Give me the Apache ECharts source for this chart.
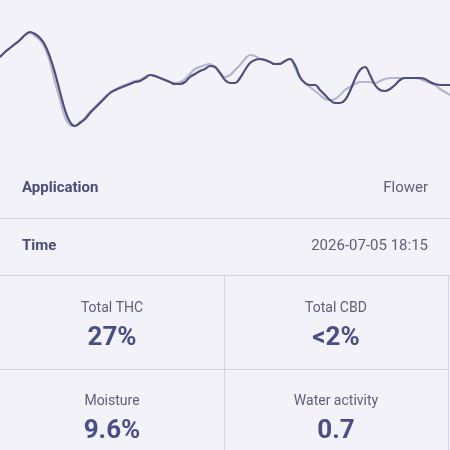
<!DOCTYPE html>
<html>
<head>
<meta charset="utf-8">
<script src="https://cdn.jsdelivr.net/npm/echarts@6/dist/echarts.min.js"></script>
<style>
  html, body { margin: 0; padding: 0; background: #f3f2f9; }
  #main { width: 450px; height: 450px; }
</style>
</head>
<body>
<div id="main"></div>
<script>
// sample index along the trace (one every 5 px)
var samples = [];
for (var i = 0; i <= 90; i++) samples.push(i);

// measured curve (dark) and reference curve (light)
var measured = [
  83, 88, 92, 96, 100, 105, 108, 106, 102, 95,
  83, 67, 48, 30, 18, 14, 17, 21, 27, 32,
  37, 42, 47, 50, 52, 54, 56, 58, 59, 62,
  65, 64, 62, 60, 58, 56, 56, 58, 63, 66,
  69, 71, 74, 73, 67, 60, 57, 57, 62, 70,
  77, 80, 81, 80, 78, 76, 76, 79, 81, 75,
  63, 57, 55, 55, 50, 45, 40, 37, 37, 40,
  49, 61, 70, 73, 65, 55, 50, 49, 51, 55,
  60, 62, 62, 62, 62, 61, 58, 56, 55, 55,
  55
];
var reference = [
  83, 88, 92, 96, 100, 105, 107, 104, 100, 92,
  78, 58, 40, 23, 15, 14, 18, 22, 28, 33,
  38, 43, 47, 50, 53, 55, 57, 59, 60, 63,
  65, 64, 62, 60, 58, 57, 58, 61, 66, 71,
  73, 75, 76, 73, 67, 63, 65, 70, 75, 81,
  85, 84, 81, 80, 78, 76, 77, 79, 81, 72,
  62, 57, 53, 49, 45, 41, 40, 41, 45, 50,
  53, 56, 58, 58, 58, 57, 59, 61, 62, 62,
  62, 62, 62, 62, 61, 59, 57, 55, 51, 48,
  45
];

// info rows
var rowLabels = ['Application', 'Time'];
var rowValues = ['Flower', '2026-07-05 18:15'];

// result tiles
var tileLabels = ['Total THC', 'Total CBD', 'Moisture', 'Water activity'];
var tileValues = ['27%', '<2%', '9.6%', '0.7'];

var font = 'Roboto, "Liberation Sans", sans-serif';
var lineColor = '#d3d2e3';
var graphics = [];

// rows
for (var r = 0; r < rowLabels.length; r++) {
  var cy = 188 + r * 58;
  graphics.push({
    type: 'text', x: 22, y: cy,
    style: { text: rowLabels[r], font: 'bold 15px ' + font, fill: '#4a4d78', textVerticalAlign: 'middle' }
  });
  graphics.push({
    type: 'text', x: 428, y: cy,
    style: { text: rowValues[r], font: '15px ' + font, fill: '#5d6079', textAlign: 'right', textVerticalAlign: 'middle' }
  });
}

// separators
graphics.push({ type: 'line', shape: { x1: 0, y1: 218.5, x2: 450, y2: 218.5 }, style: { stroke: lineColor, lineWidth: 1 } });
graphics.push({ type: 'line', shape: { x1: 0, y1: 275.5, x2: 450, y2: 275.5 }, style: { stroke: lineColor, lineWidth: 1 } });
graphics.push({ type: 'line', shape: { x1: 0, y1: 369.5, x2: 448, y2: 369.5 }, style: { stroke: lineColor, lineWidth: 1 } });
graphics.push({ type: 'line', shape: { x1: 224.5, y1: 275.5, x2: 224.5, y2: 450 }, style: { stroke: lineColor, lineWidth: 1 } });
graphics.push({ type: 'line', shape: { x1: 448.5, y1: 275.5, x2: 448.5, y2: 450 }, style: { stroke: lineColor, lineWidth: 1 } });

// tiles
for (var t = 0; t < tileLabels.length; t++) {
  var cx = (t % 2 === 0) ? 112 : 336;
  var ty = 308 + Math.floor(t / 2) * 93;
  graphics.push({
    type: 'text', x: cx, y: ty,
    style: { text: tileLabels[t], font: '14px ' + font, fill: '#5d6079', textAlign: 'center', textVerticalAlign: 'middle' }
  });
  graphics.push({
    type: 'text', x: cx, y: ty + 30,
    style: { text: tileValues[t], font: 'bold 26px ' + font, fill: '#4a4e85', textAlign: 'center', textVerticalAlign: 'middle' }
  });
}

var chart = echarts.init(document.getElementById('main'));
chart.setOption({
  backgroundColor: '#f3f2f9',
  animation: false,
  grid: { left: 0, right: 0, top: 0, height: 140 },
  xAxis: {
    type: 'category', data: samples, boundaryGap: false, show: false
  },
  yAxis: {
    type: 'value', min: 0, max: 140, show: false
  },
  series: [
    {
      name: 'Reference', type: 'line', data: reference, smooth: 0.4,
      showSymbol: false, lineStyle: { color: '#b5b6cf', width: 2.2 }, z: 1
    },
    {
      name: 'Measured', type: 'line', data: measured, smooth: 0.4,
      showSymbol: false, lineStyle: { color: '#4c4f7f', width: 2.2 }, z: 2
    }
  ],
  graphic: graphics
});
</script>
</body>
</html>
